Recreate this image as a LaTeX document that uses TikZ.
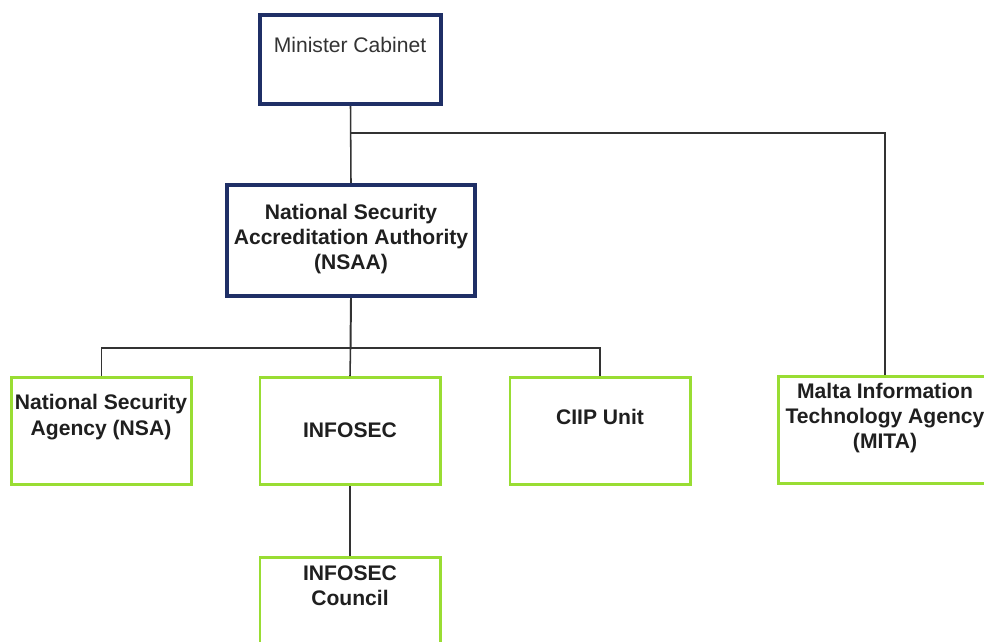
\documentclass[tikz,border=0pt]{standalone}
\usepackage{fontspec}
\setmainfont{Liberation Sans}
\usepackage{tikz}
\usetikzlibrary{positioning}

\definecolor{boxnavy}{HTML}{1F2F66}
\definecolor{boxgreen}{HTML}{99DD33}
\definecolor{linkgray}{HTML}{333333}

\begin{document}
\begin{tikzpicture}[x=0.025cm,y=-0.025cm,
  topbox/.style={draw=boxnavy,line width=2.85pt,fill=white,inner sep=0pt},
  unitbox/.style={draw=boxgreen,line width=2.1pt,fill=white,inner sep=0pt,
    minimum width=4.5cm,minimum height=2.675cm},
  txt/.style={align=center,inner sep=0pt,text=black!88,
    font=\fontsize{15}{18}\selectfont\bfseries},
  link/.style={draw=linkgray,line width=1.1pt}]
 \clip (0,0) rectangle (984,641);
 \fill [white] (0,0) rectangle (984,641);

 % boxes
 \node [topbox,minimum width=4.525cm,minimum height=2.225cm] (minister) at (350.5,59.5) {};
 \node [topbox,minimum width=6.2cm,minimum height=2.775cm] (nsaa) at (351,240.5) {};
 \node [unitbox] (nsa) at (101.5,431) {};
 \node [unitbox] (infosec) at (350,431) {};
 \node [unitbox] (ciip) at (600,431) {};
 \node [unitbox,minimum width=5.325cm] (mita) at (885,430) {};
 \node [unitbox] (council) at (350,611) {};

 % texts
 \node [txt,font=\fontsize{15}{18}\selectfont,text=black!80] (minister-t) at (350,45) {Minister Cabinet};
 \node [txt] (nsaa-t) at (351,239) {National Security\\Accreditation Authority\\(NSAA)};
 \node [txt] (nsa-t) at (101,417) {National Security\\Agency (NSA)};
 \node [txt] (infosec-t) at (350,430) {INFOSEC};
 \node [txt] (ciip-t) at (600,417) {CIIP Unit};
 \node [txt] (mita-t) at (885,418) {Malta Information\\Technology Agency\\(MITA)};
 \node [txt] (council-t) at (350,586) {INFOSEC\\Council};

 % connectors
 \coordinate (split) at (350.5,133);
 \coordinate (bus) at (350.5,348);
 \draw [link] (minister.south) -- (nsaa.north);
 \draw [link] (split) -| (mita.north);
 \draw [link,line width=1.4pt] (nsaa.south) -- (bus);
 \draw [link] (nsa.north) |- (bus) -| (ciip.north);
 \draw [link] (bus) -- (infosec.north);
 \draw [link] (infosec.south) -- (council.north);
\end{tikzpicture}
\end{document}
